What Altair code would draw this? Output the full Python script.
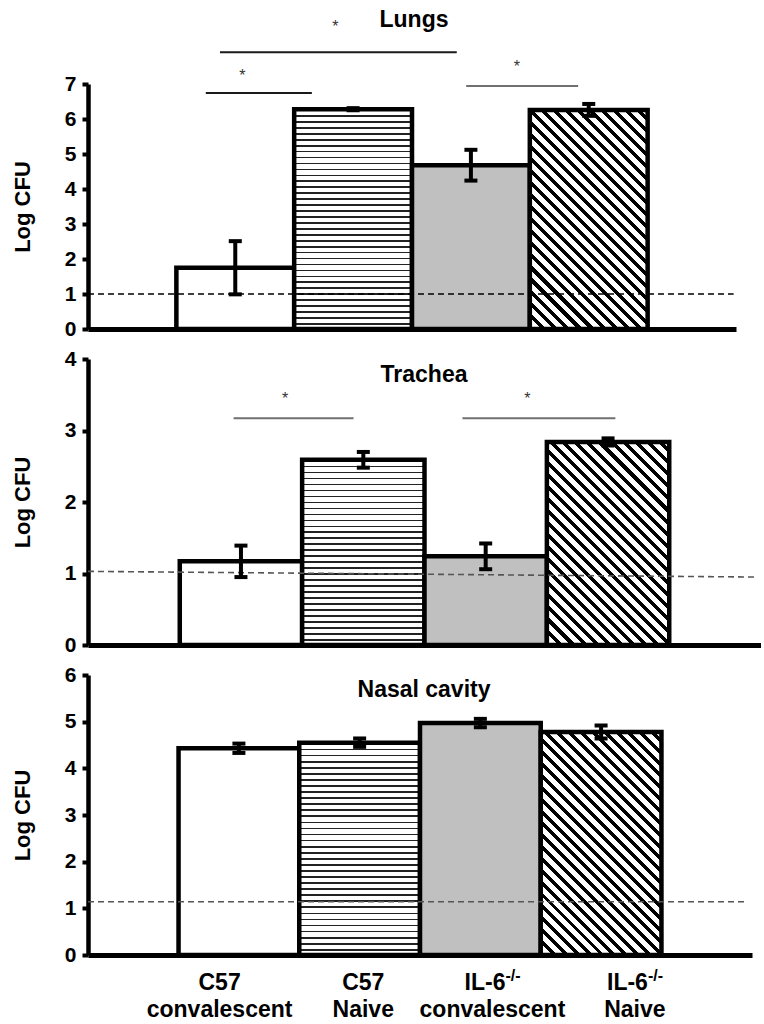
import altair as alt
import pandas as pd

# ---------------- data ----------------
groups = ["C57 convalescent", "C57 Naive", "IL-6-/- convalescent", "IL-6-/- Naive"]
label_line1 = ["C57", "C57", "IL-6", "IL-6"]
label_sup = ["", "", "-/-", "-/-"]
label_line2 = ["convalescent", "Naive", "convalescent", "Naive"]
label_x = [1.09, 2.28, 3.35, 4.53]

lungs_mean = [1.75, 6.28, 4.68, 6.26]
lungs_err = [0.76, 0.03, 0.44, 0.17]
trachea_mean = [1.17, 2.59, 1.24, 2.84]
trachea_err = [0.22, 0.11, 0.18, 0.05]
nasal_mean = [4.43, 4.55, 4.97, 4.78]
nasal_err = [0.10, 0.09, 0.09, 0.14]

# detection-limit dashed lines: value at left end, value at right end, right end x
lungs_lod = [1.0, 1.0]
trachea_lod = [1.03, 0.95]
nasal_lod = [1.14, 1.14]
lod_end = [5.48, 5.47, 5.46]

# significance brackets (x in category-step units, y in Log CFU)
lungs_sig_x1 = [1.00, 1.12, 3.21]
lungs_sig_x2 = [1.90, 3.13, 4.16]
lungs_sig_y = [6.74, 7.91, 6.94]
lungs_sig_tone = ["dark", "dark", "light"]
lungs_star_x = [1.31, 2.10, 3.64]
lungs_star_y = [7.34, 8.74, 7.60]

trachea_sig_x1 = [1.19, 3.06]
trachea_sig_x2 = [2.17, 4.31]
trachea_sig_y = [3.17, 3.17]
trachea_sig_tone = ["light", "light"]
trachea_star_x = [1.61, 3.59]
trachea_star_y = [3.50, 3.50]

FONT = "Liberation Sans"


# ---------------- pattern fills ----------------
def hstripe_fill(h_px, period=6.0, lw=1.7, color="#222222"):
    n = max(1, round(h_px / period))
    stops = []
    for k in range(n):
        a = k / n
        b = min(1.0, a + lw / max(h_px, 1))
        c = (k + 1) / n
        stops += [
            alt.GradientStop(offset=a, color=color),
            alt.GradientStop(offset=b, color=color),
            alt.GradientStop(offset=b, color="white"),
            alt.GradientStop(offset=c, color="white"),
        ]
    return alt.LinearGradient(gradient="linear", stops=stops, x1=0, y1=0, x2=0, y2=1)


def diag_fill(w, h, period=12.0, frac=0.42, color="black"):
    s = (w + h) / (w * w + h * h)
    n = max(1, round((w + h) / period))
    stops = []
    for k in range(n):
        a = k / n
        b = a + frac / n
        c = (k + 1) / n
        stops += [
            alt.GradientStop(offset=a, color=color),
            alt.GradientStop(offset=b, color=color),
            alt.GradientStop(offset=b, color="white"),
            alt.GradientStop(offset=c, color="white"),
        ]
    return alt.LinearGradient(gradient="linear", stops=stops,
                              x1=0, y1=1, x2=w * s, y2=1 - h * s)


# ---------------- panel builder ----------------
def panel(title, means, errs, ymax, width, height, lod, lend, lod_color,
          sig, title_xy, bottom=False):
    step = width / 5.5
    ppu = height / ymax
    xs = alt.Scale(domain=[0, 5.5], nice=False, zero=False)
    ys = alt.Scale(domain=[0, ymax], nice=False, zero=True)
    xax = alt.Axis(title=None, labels=False, ticks=False, grid=False,
                   domain=True, domainWidth=5, domainColor="black")
    yax = alt.Axis(title="Log CFU", values=list(range(ymax + 1)), grid=False,
                   domainWidth=4.5, domainColor="black", tickWidth=4,
                   tickColor="black", tickSize=6, labelPadding=6,
                   labelFontSize=21, labelFontWeight="bold", labelColor="black",
                   labelFont=FONT, titleFont=FONT, titleFontSize=22,
                   titleFontWeight="bold", titleColor="black", titlePadding=30)

    def X(f):
        return alt.X(f, scale=xs, axis=xax, title=None)

    def Y(f):
        return alt.Y(f, scale=ys, axis=yax, title="Log CFU")

    df = pd.DataFrame({"group": groups, "idx": list(range(4)),
                       "mean": means, "err": errs})
    base = alt.Chart(df).transform_calculate(
        xl="datum.idx + 0.75", xr="datum.idx + 1.75", xc="datum.idx + 1.25",
        lo="datum.mean - datum.err", hi="datum.mean + datum.err")

    fills = [
        "white",
        hstripe_fill(means[1] * ppu),
        "#c0c0c0",
        diag_fill(step, means[3] * ppu),
    ]
    layers = []
    for i in range(4):
        layers.append(
            base.transform_filter(f"datum.idx == {i}")
            .mark_bar(fill=fills[i], stroke="black", strokeWidth=4.5)
            .encode(x=X("xl:Q"), x2="xr:Q", y=Y("mean:Q"), y2=alt.datum(0))
        )

    # detection limit
    lod_df = pd.DataFrame({"x": [0.0], "x2": [lend], "y": [lod[0]], "y2": [lod[1]]})
    layers.append(
        alt.Chart(lod_df).mark_rule(strokeDash=[6, 4], strokeWidth=1.6, color=lod_color)
        .encode(x=X("x:Q"), x2="x2:Q", y=Y("y:Q"), y2="y2:Q")
    )

    # error bars
    layers.append(
        base.mark_rule(color="black", strokeWidth=4).encode(
            x=X("xc:Q"), y=Y("lo:Q"), y2="hi:Q")
    )
    for fld in ["lo", "hi"]:
        layers.append(
            base.mark_tick(orient="horizontal", size=13, thickness=4,
                           color="black", opacity=1).encode(
                x=X("xc:Q"), y=Y(f"{fld}:Q"))
        )

    # significance brackets
    if sig is not None:
        x1, x2, sy, tone, stx, sty = sig
        sdf = pd.DataFrame({"x1": x1, "x2": x2, "y": sy, "tone": tone})
        tdf = pd.DataFrame({"x": stx, "y": sty, "t": ["*"] * len(stx)})
        layers.append(
            alt.Chart(sdf).mark_rule(strokeWidth=2).encode(
                x=X("x1:Q"), x2="x2:Q", y=Y("y:Q"),
                color=alt.Color("tone:N", legend=None,
                                scale=alt.Scale(domain=["dark", "light"],
                                                range=["#1a1a1a", "#707070"])))
        )
        layers.append(
            alt.Chart(tdf).mark_text(fontSize=16, font=FONT, color="#333",
                                     baseline="middle", dy=4).encode(
                x=X("x:Q"), y=Y("y:Q"), text="t:N")
        )

    # panel title
    layers.append(
        alt.Chart(pd.DataFrame({"t": [title]})).mark_text(
            fontSize=23, fontWeight="bold", font=FONT, color="black",
            align="center", baseline="middle").encode(
            text="t:N", x=alt.value(title_xy[0]), y=alt.value(title_xy[1]))
    )

    if bottom:
        ldf = pd.DataFrame({"x": label_x, "l1": label_line1, "sup": label_sup,
                            "l2": label_line2, "idx": list(range(4))})
        lb = alt.Chart(ldf)
        layers.append(
            lb.transform_filter("datum.idx < 2").mark_text(
                fontSize=23, fontWeight="bold", font=FONT, color="black",
                align="center", baseline="middle").encode(
                x=X("x:Q"), y=alt.value(height + 28), text="l1:N")
        )
        layers.append(
            lb.transform_filter("datum.idx >= 2").mark_text(
                fontSize=23, fontWeight="bold", font=FONT, color="black",
                align="right", baseline="middle", dx=13).encode(
                x=X("x:Q"), y=alt.value(height + 28), text="l1:N")
        )
        layers.append(
            lb.transform_filter("datum.idx >= 2").mark_text(
                fontSize=16, fontWeight="bold", font=FONT, color="black",
                align="left", baseline="middle", dx=13).encode(
                x=X("x:Q"), y=alt.value(height + 21), text="sup:N")
        )
        layers.append(
            lb.mark_text(fontSize=23, fontWeight="bold", font=FONT, color="black",
                         align="center", baseline="middle").encode(
                x=X("x:Q"), y=alt.value(height + 55), text="l2:N")
        )

    return alt.layer(*layers).properties(width=width, height=height)


lungs = panel("Lungs", lungs_mean, lungs_err, 7, 648, 245, lungs_lod, lod_end[0], "black",
              (lungs_sig_x1, lungs_sig_x2, lungs_sig_y, lungs_sig_tone, lungs_star_x, lungs_star_y),
              (326, -64))
trachea = panel("Trachea", trachea_mean, trachea_err, 4, 673, 286, trachea_lod, lod_end[1], "#555",
                (trachea_sig_x1, trachea_sig_x2, trachea_sig_y, trachea_sig_tone, trachea_star_x, trachea_star_y),
                (336, 16))
nasal = panel("Nasal cavity", nasal_mean, nasal_err, 6, 664, 280, nasal_lod, lod_end[2], "#555",
              None, (336, 15), bottom=True)

chart = alt.vconcat(lungs, trachea, nasal, spacing=30, bounds="flush").properties(
    padding={"left": 11, "top": 9, "right": 0, "bottom": 0}
).configure(font=FONT).configure_view(stroke=None)

chart.save("out.html", embed_options={"renderer": "svg", "actions": False})
